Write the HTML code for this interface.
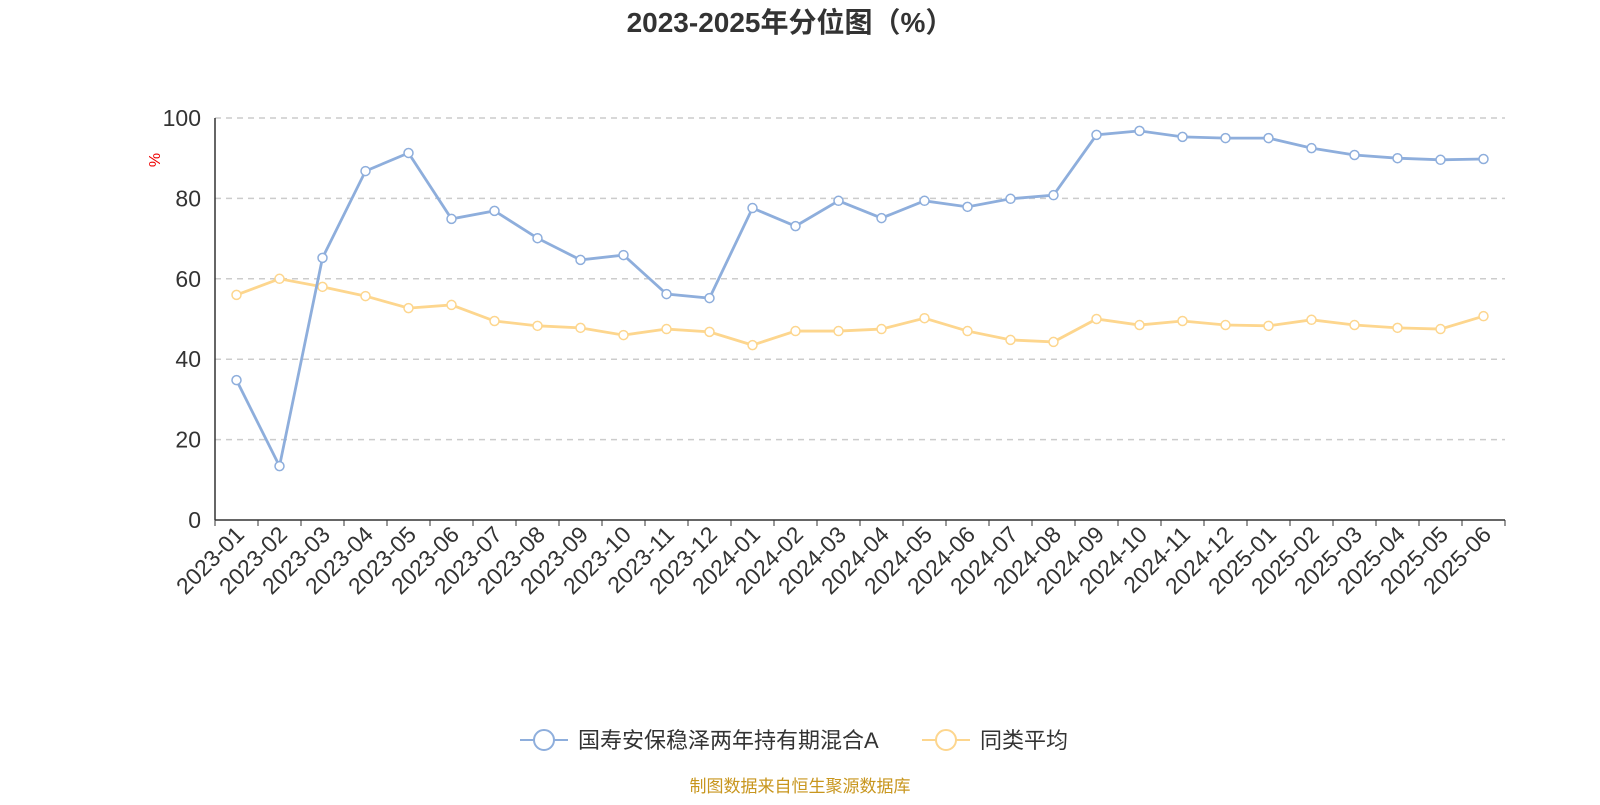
<!DOCTYPE html>
<html><head><meta charset="utf-8"><style>
body{margin:0;background:#fff;width:1600px;height:800px;overflow:hidden;font-family:"Liberation Sans","Noto Sans CJK SC",sans-serif;}
</style></head><body>
<svg id="chart" width="1600" height="800" xmlns="http://www.w3.org/2000/svg">
<text x="790" y="32" text-anchor="middle" font-size="28" font-weight="bold" fill="#333" font-family="Liberation Sans,Noto Sans CJK SC,sans-serif">2023-2025年分位图（%）</text>
<text x="160" y="160" text-anchor="middle" font-size="16" fill="#e00" transform="rotate(-90 160 160)">%</text>
<g id="grid"></g><g id="axes"></g><g id="series"></g>
<g>
<g>
<line x1="520" y1="740" x2="568" y2="740" stroke="#8eaedc" stroke-width="2"/><circle cx="544" cy="740" r="10" fill="#fff" stroke="#8eaedc" stroke-width="2"/>
<text x="578" y="748" font-size="22" fill="#333" font-family="Liberation Sans,Noto Sans CJK SC,sans-serif">国寿安保稳泽两年持有期混合A</text></g>
<g>
<line x1="922" y1="740" x2="970" y2="740" stroke="#fdd68e" stroke-width="2"/><circle cx="946" cy="740" r="10" fill="#fff" stroke="#fdd68e" stroke-width="2"/>
<text x="980" y="748" font-size="22" fill="#333" font-family="Liberation Sans,Noto Sans CJK SC,sans-serif">同类平均</text></g>
</g>
<text x="800" y="792" text-anchor="middle" font-size="17" fill="#c8961e" font-family="Liberation Sans,Noto Sans CJK SC,sans-serif">制图数据来自恒生聚源数据库</text>
</svg>
<script>
const categories=["2023-01","2023-02","2023-03","2023-04","2023-05","2023-06","2023-07","2023-08","2023-09","2023-10","2023-11","2023-12","2024-01","2024-02","2024-03","2024-04","2024-05","2024-06","2024-07","2024-08","2024-09","2024-10","2024-11","2024-12","2025-01","2025-02","2025-03","2025-04","2025-05","2025-06"];
const fundValues=[34.8,13.4,65.2,86.8,91.3,74.9,76.9,70.1,64.7,65.9,56.2,55.2,77.6,73.1,79.4,75.1,79.4,77.9,79.9,80.8,95.8,96.8,95.3,95.0,95.0,92.5,90.8,90.0,89.6,89.8];
const avgValues=[56.0,60.0,58.0,55.7,52.7,53.5,49.5,48.3,47.8,46.0,47.5,46.8,43.5,47.0,47.0,47.5,50.2,47.0,44.8,44.3,50.0,48.5,49.5,48.5,48.3,49.8,48.5,47.8,47.5,50.7];
const yTicks=[0,20,40,60,80,100];
const NS="http://www.w3.org/2000/svg";
const X0=215,X1=1505,Y0=520,Y1=118;
const bw=(X1-X0)/categories.length;
const xs=i=>X0+bw*(i+0.5);
const ys=v=>Y0-(v/100)*(Y0-Y1);
function mk(t,a,p){const e=document.createElementNS(NS,t);for(const k in a)e.setAttribute(k,a[k]);p.appendChild(e);return e;}
const grid=document.getElementById('grid'),axes=document.getElementById('axes'),ser=document.getElementById('series');
yTicks.forEach(v=>{
 if(v>0){const l=mk('line',{x1:X0,x2:X1,y1:ys(v),y2:ys(v),stroke:'#ccc','stroke-dasharray':'6,5','stroke-width':1.5},grid);
 
 }
 const t=mk('text',{x:X0-14,y:ys(v)+8,'text-anchor':'end','font-size':23,fill:'#333'},axes);t.textContent=v;
 
 
});
const ya=mk('line',{x1:X0,x2:X0,y1:Y1,y2:Y0,stroke:'#333','stroke-width':1.5},axes);


const xa=mk('line',{x1:X0,x2:X1,y1:Y0,y2:Y0,stroke:'#333','stroke-width':1.5},axes);


for(let i=0;i<=categories.length;i++){mk('line',{x1:X0+bw*i,x2:X0+bw*i,y1:Y0,y2:Y0+6,stroke:'#333'},axes);}
categories.forEach((c,i)=>{
 const x=xs(i)+9,y=Y0+16;
 const t=mk('text',{x:x,y:y,'text-anchor':'end','font-size':23,fill:'#333',transform:`rotate(-45 ${x} ${y})`},axes);t.textContent=c;
 
 
});
function draw(vals,color,name){
 const p=mk('polyline',{points:vals.map((v,i)=>xs(i)+','+ys(v)).join(' '),fill:'none',stroke:color,'stroke-width':2.8},ser);
 
 
 vals.forEach((v,i)=>{const c=mk('circle',{cx:xs(i),cy:ys(v),r:4.5,fill:'#fff',stroke:color,'stroke-width':1.5},ser);
 
 });
}
draw(avgValues,'#fdd68e','average');
draw(fundValues,'#8eaedc','fund');
</script>
</body></html>
